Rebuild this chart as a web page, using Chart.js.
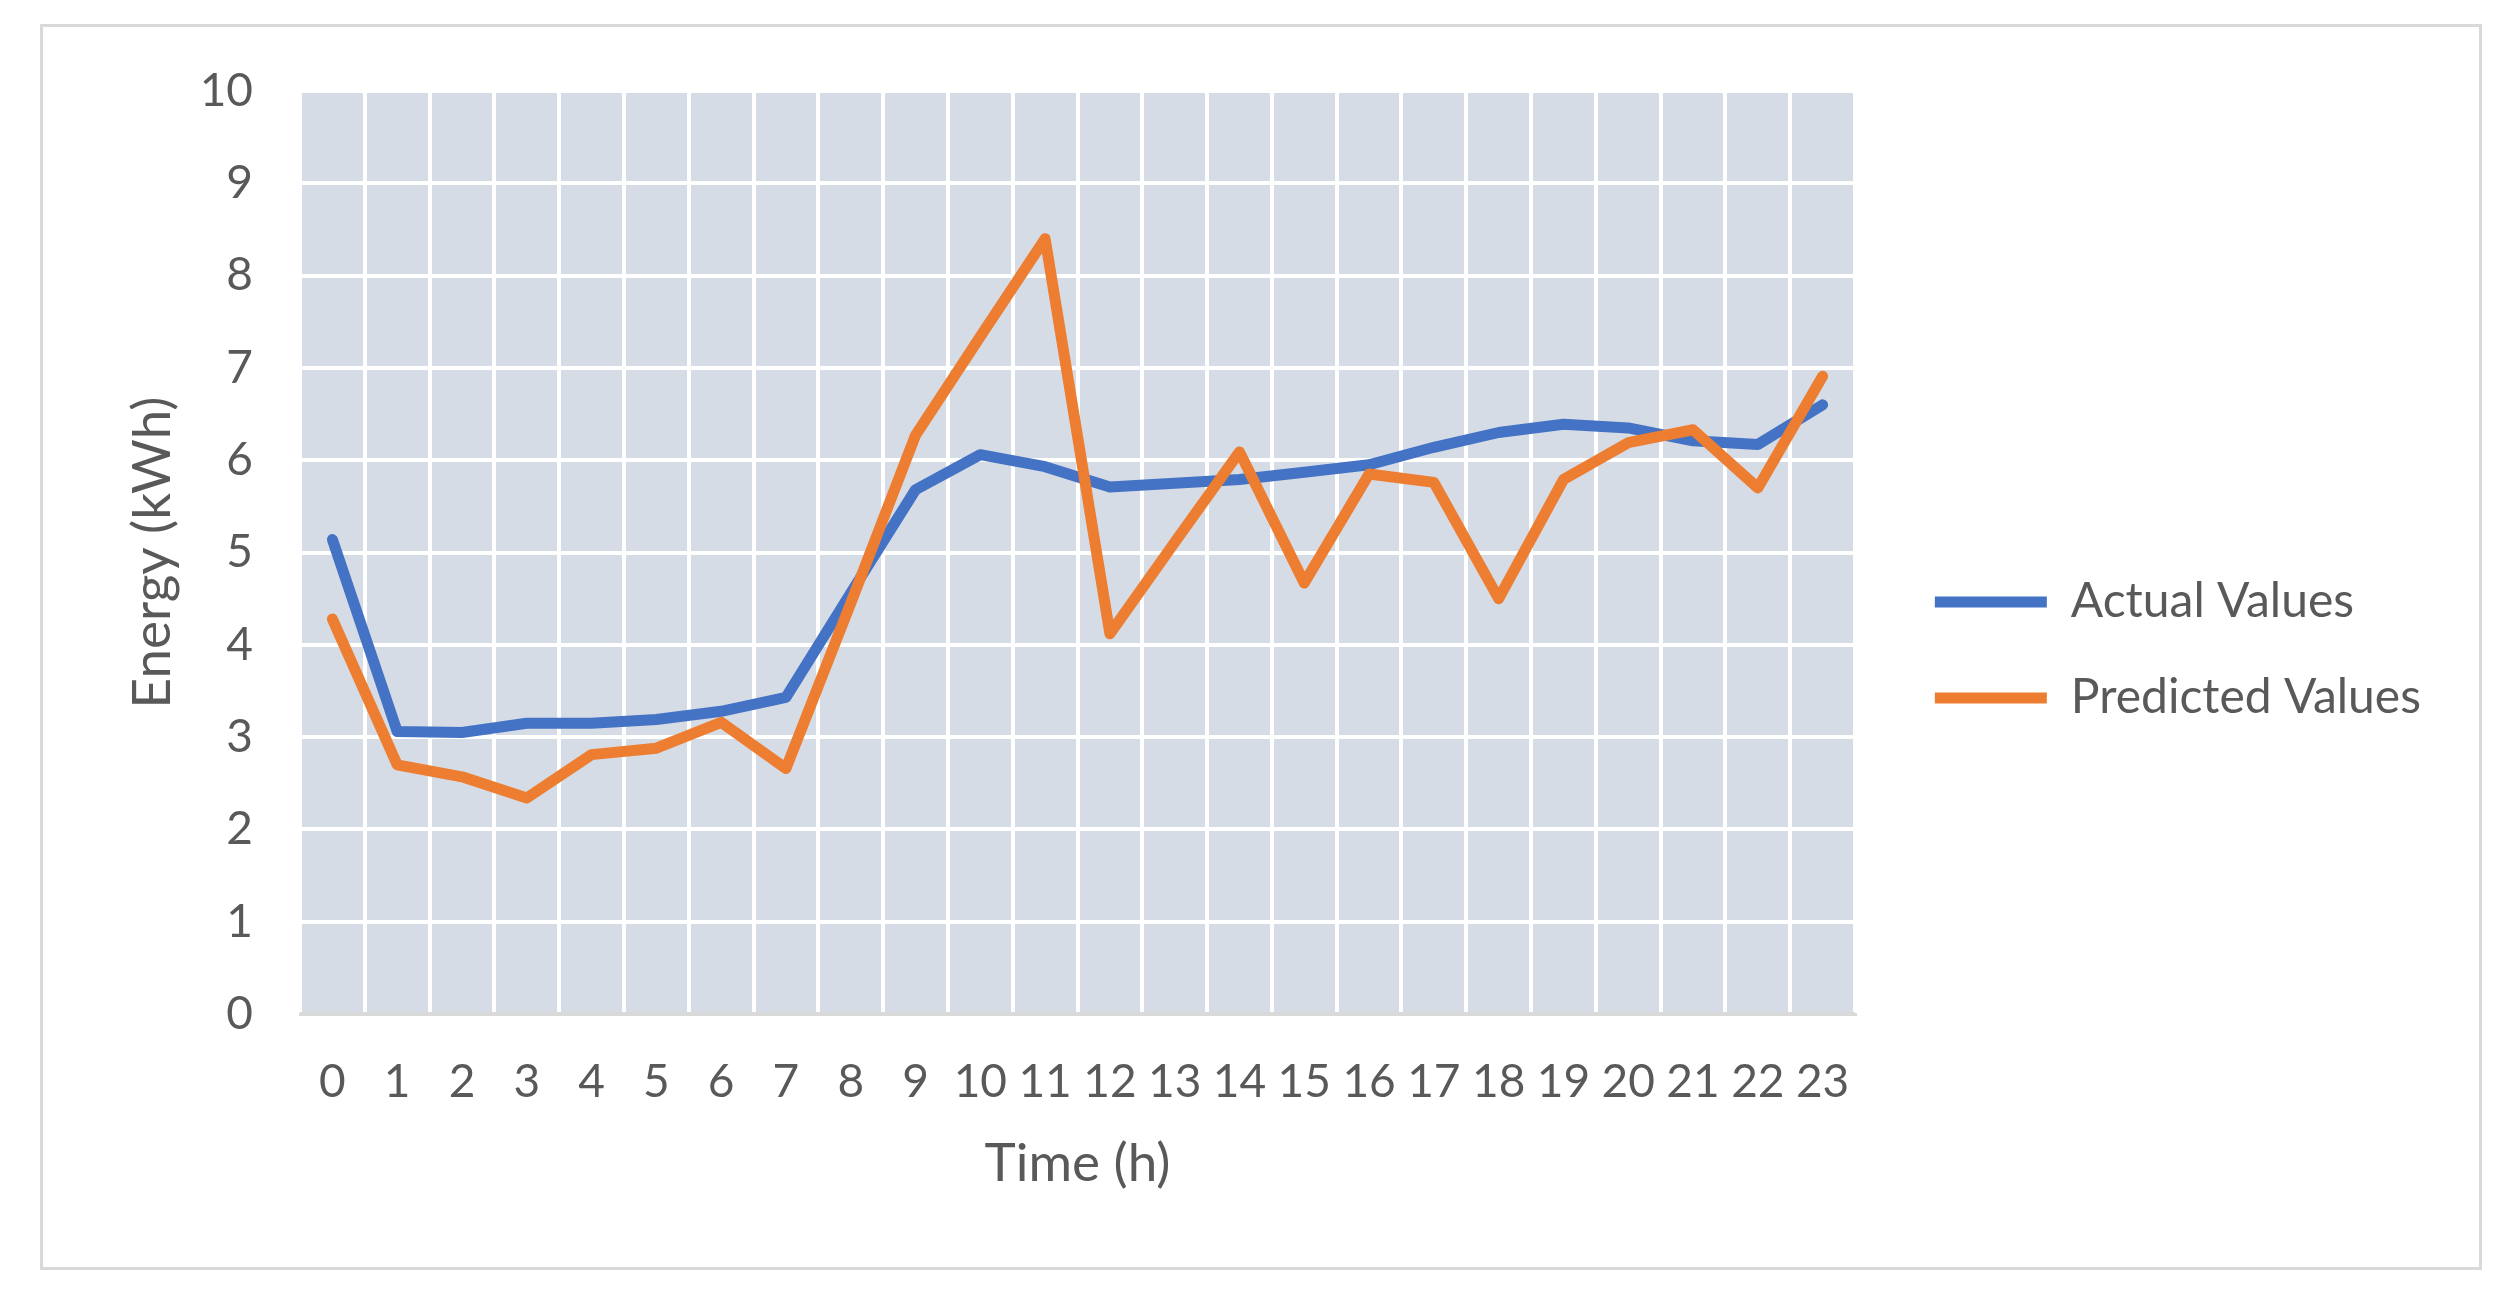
<!DOCTYPE html>
<html lang="en">
<head>
    <meta charset="UTF-8">
    <title>Actual vs Predicted Energy</title>
    <script src="https://cdn.jsdelivr.net/npm/chart.js"></script>
    <style>
        body { margin: 0; background: #fff; overflow: hidden; }
        #frame {
            position: absolute; left: 40px; top: 24px;
            width: 2436px; height: 1240px;
            border: 3px solid #D9D9D9;
        }
        #chart-box { position: absolute; left: 0; top: 0; width: 2506px; height: 1307px; }
    </style>
</head>
<body>
    <div id="frame"></div>
    <div id="chart-box">
        <canvas id="energyChart"></canvas>
    </div>

    <script>
        var hours = ['0', '1', '2', '3', '4', '5', '6', '7', '8', '9', '10', '11',
                     '12', '13', '14', '15', '16', '17', '18', '19', '20', '21', '22', '23'];
        var actualValues = [5.14, 3.06, 3.05, 3.15, 3.15, 3.19, 3.28, 3.43, 4.56, 5.68, 6.06, 5.93,
                            5.71, 5.75, 5.79, 5.87, 5.95, 6.14, 6.30, 6.39, 6.35, 6.21, 6.17, 6.60];
        var predictedValues = [4.28, 2.70, 2.57, 2.34, 2.81, 2.88, 3.16, 2.66, 4.45, 6.27, 7.34, 8.40,
                               4.12, 5.11, 6.09, 4.67, 5.85, 5.76, 4.50, 5.79, 6.19, 6.33, 5.70, 6.91];
        var yMin = 0;
        var yMax = 10;
        var yStep = 1;

        var textColor = '#595959';
        var fontFamily = 'Lato, "Open Sans", sans-serif';
        var rightPad = 75;
        var plotRight = 1855;

        // grey plot area behind the white grid
        var plotBackground = {
            id: 'plotBackground',
            beforeDraw: function (chart) {
                var a = chart.chartArea;
                var ctx = chart.ctx;
                ctx.save();
                ctx.fillStyle = '#D6DCE5';
                ctx.fillRect(a.left, a.top, a.right - a.left, a.bottom - a.top);
                ctx.restore();
            }
        };

        var ctx = document.getElementById('energyChart').getContext('2d');

        var energyChart = new Chart(ctx, {
            type: 'line',
            data: {
                labels: hours,
                datasets: [{
                    label: 'Actual Values',
                    data: actualValues,
                    borderColor: '#4472C4',
                    backgroundColor: '#4472C4',
                    borderWidth: 11,
                    borderCapStyle: 'round',
                    borderJoinStyle: 'round',
                    pointRadius: 0,
                    tension: 0,
                    order: 1
                }, {
                    label: 'Predicted Values',
                    data: predictedValues,
                    borderColor: '#ED7D31',
                    backgroundColor: '#ED7D31',
                    borderWidth: 11,
                    borderCapStyle: 'round',
                    borderJoinStyle: 'round',
                    pointRadius: 0,
                    tension: 0,
                    order: 0
                }]
            },
            options: {
                responsive: true,
                maintainAspectRatio: false,
                animation: false,
                layout: {
                    padding: { left: 100, top: 91, right: rightPad, bottom: 98 }
                },
                plugins: {
                    legend: {
                        position: 'right',
                        maxWidth: 1000,
                        labels: {
                            usePointStyle: true,
                            pointStyle: 'line',
                            pointStyleWidth: 112,
                            padding: 48,
                            color: textColor,
                            font: { family: fontFamily, size: 48 },
                            sort: function (a, b) { return a.datasetIndex - b.datasetIndex; }
                        }
                    },
                    tooltip: { enabled: false }
                },
                scales: {
                    x: {
                        offset: true,
                        grid: {
                            offset: true,
                            color: '#FFFFFF',
                            lineWidth: 4,
                            drawTicks: false
                        },
                        border: { display: true, color: '#D9D9D9', width: 3 },
                        ticks: {
                            color: textColor,
                            font: { family: fontFamily, size: 46 },
                            padding: 41,
                            maxRotation: 0,
                            autoSkip: false
                        },
                        title: {
                            display: true,
                            text: 'Time (h)',
                            color: textColor,
                            font: { family: fontFamily, size: 53 },
                            padding: { top: 0, bottom: 13 }
                        },
                        afterFit: function (scale) { scale.height = 195; }
                    },
                    y: {
                        min: yMin,
                        max: yMax,
                        grid: {
                            color: function (c) { return c.tick && c.tick.value === 0 ? '#D9D9D9' : '#FFFFFF'; },
                            lineWidth: 4,
                            drawTicks: false
                        },
                        border: { display: false },
                        ticks: {
                            stepSize: yStep,
                            color: textColor,
                            font: { family: fontFamily, size: 46 },
                            padding: 47
                        },
                        title: {
                            display: true,
                            text: 'Energy (kWh)',
                            color: textColor,
                            font: { family: fontFamily, size: 53 },
                            padding: { top: 21, bottom: 0 }
                        },
                        afterFit: function (scale) { scale.width = 200; }
                    },
                    // empty axis, only keeps space between plot and legend
                    gap: {
                        type: 'linear',
                        axis: 'y',
                        position: 'right',
                        display: true,
                        grid: { display: false, drawTicks: false },
                        border: { display: false },
                        ticks: { display: false },
                        afterFit: function (scale) {
                            var chart = scale.chart;
                            var lw = chart.legend ? chart.legend.width : 540;
                            scale.width = Math.max(0, chart.width - rightPad - lw - plotRight);
                        }
                    }
                }
            },
            plugins: [plotBackground]
        });
    </script>
</body>
</html>
